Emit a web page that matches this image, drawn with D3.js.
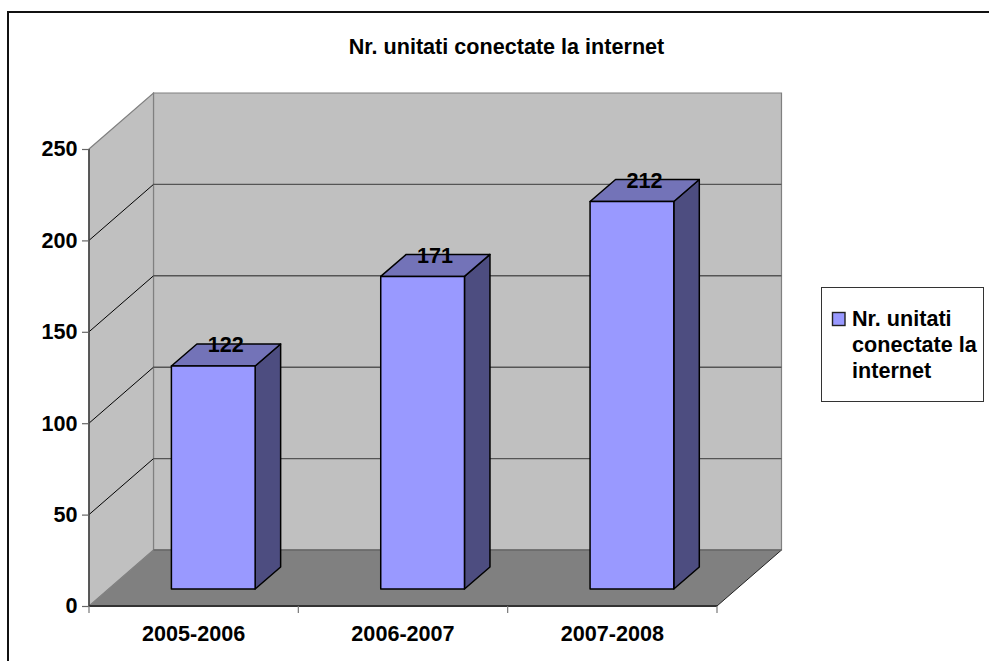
<!DOCTYPE html>
<html><head><meta charset="utf-8">
<script src="https://cdn.jsdelivr.net/npm/d3@7/dist/d3.min.js"></script>
<style>html,body{margin:0;padding:0;background:#fff}svg{display:block}text{font-family:"Liberation Sans",Arial,sans-serif;font-weight:bold;fill:#000}</style>
</head><body><svg id="c" width="989" height="661"></svg>
<script>
const categories = ["2005-2006","2006-2007","2007-2008"];
const unitCounts = [122,171,212];
const yTicks = [0,50,100,150,200,250];
const chartTitle = "Nr. unitati conectate la internet";
const legendLines = ["Nr. unitati","conectate la","internet"];

const svg = d3.select("#c");
const W = 989, H = 661, FS = "21.6px";
const wallDx = 64.5, wallDy = -56;      // plot depth
const x = d3.scaleBand().domain(categories).range([89,717]).paddingInner(0).paddingOuter(0);
const y = d3.scaleLinear().domain([0,250]).range([606,149]);
const barW = x.bandwidth()*0.4;
const barInsetDx = 19.6, barInsetDy = -17;
const barDx = 25.5, barDy = -22;
const poly = p => p.map(q=>q.join(",")).join(" ");

// outer frame
svg.append("rect").attr("x",8).attr("y",12).attr("width",W).attr("height",H).attr("fill","#fff").attr("stroke","#111").attr("stroke-width",2);

const x0=x.range()[0], x1=x.range()[1], yB=y(0), yT=y(250);
// back wall
svg.append("polygon").attr("points",poly([[x0+wallDx,yT+wallDy],[x1+wallDx,yT+wallDy],[x1+wallDx,yB+wallDy],[x0+wallDx,yB+wallDy]])).attr("fill","#c0c0c0").attr("stroke","#808080").attr("stroke-width",1.2);
// side wall
svg.append("polygon").attr("points",poly([[x0,yT],[x0+wallDx,yT+wallDy],[x0+wallDx,yB+wallDy],[x0,yB]])).attr("fill","#c0c0c0").attr("stroke","#808080").attr("stroke-width",1.2);
// floor
svg.append("polygon").attr("points",poly([[x0,yB],[x1,yB],[x1+wallDx,yB+wallDy],[x0+wallDx,yB+wallDy]])).attr("fill","#808080");
svg.append("line").attr("x1",x1).attr("y1",yB).attr("x2",x1+wallDx).attr("y2",yB+wallDy).attr("stroke","#222").attr("stroke-width",1);
svg.append("line").attr("x1",x0+wallDx).attr("y1",yB+wallDy).attr("x2",x1+wallDx).attr("y2",yB+wallDy).attr("stroke","#666").attr("stroke-width",1.5);

// gridlines
yTicks.filter(t=>t>0&&t<250).forEach(t=>{
  svg.append("line").attr("x1",x0).attr("y1",y(t)).attr("x2",x0+wallDx).attr("y2",y(t)+wallDy).attr("stroke","#000").attr("stroke-width",1);
  svg.append("line").attr("x1",x0+wallDx).attr("y1",y(t)+wallDy).attr("x2",x1+wallDx).attr("y2",y(t)+wallDy).attr("stroke","#555").attr("stroke-width",1.4);
});

// y axis
const yAxis = d3.axisLeft(y).tickValues(yTicks).tickSize(7).tickPadding(4.5).tickFormat(d3.format("d"));
const gy = svg.append("g").attr("transform",`translate(${x0},0)`).call(yAxis);
gy.select(".domain").attr("stroke","#444").attr("stroke-width",1.6).attr("d",`M0,${yT}V${yB}`);
gy.selectAll(".tick line").attr("stroke","#666").attr("stroke-width",1.2);
gy.selectAll("text").style("font-size",FS).style("font-family",'"Liberation Sans",Arial,sans-serif').style("font-weight","bold").attr("fill","#000");

// x axis
const xAxis = d3.axisBottom(x).tickSize(0).tickPadding(19.5);
const gx = svg.append("g").attr("transform",`translate(0,${yB})`).call(xAxis);
gx.select(".domain").attr("stroke","#333").attr("stroke-width",2).attr("d",`M${x0},0H${x1}`);
gx.selectAll("text").style("font-size",FS).style("font-family",'"Liberation Sans",Arial,sans-serif').style("font-weight","bold").attr("fill","#000");
d3.range(0,categories.length+1).forEach(i=>{
  const xx = x0 + i*x.step();
  svg.append("line").attr("x1",xx).attr("x2",xx).attr("y1",yB).attr("y2",yB+7).attr("stroke","#777").attr("stroke-width",1.2);
});

// bars
const bars = svg.append("g").selectAll("g").data(categories.map((c,i)=>({c,v:unitCounts[i]}))).join("g");
const L = d=>x(d.c)+(x.bandwidth()-barW)/2+barInsetDx, R=d=>L(d)+barW, B=yB+barInsetDy;
const T = d=>y(d.v)+barInsetDy;
bars.append("polygon").attr("points",d=>poly([[R(d),T(d)],[R(d)+barDx,T(d)+barDy],[R(d)+barDx,B+barDy],[R(d),B]])).attr("fill","#4d4d80");
bars.append("polygon").attr("points",d=>poly([[L(d),T(d)],[L(d)+barDx,T(d)+barDy],[R(d)+barDx,T(d)+barDy],[R(d),T(d)]])).attr("fill","#7373b8");
bars.append("rect").attr("x",L).attr("y",T).attr("width",barW).attr("height",d=>B-T(d)).attr("fill","#9999ff");
bars.selectAll("polygon,rect").attr("stroke","#000").attr("stroke-width",1.5).attr("stroke-linejoin","round");
bars.append("text").attr("x",d=>L(d)+barW/2+12.5).attr("y",d=>T(d)-13.5).attr("text-anchor","middle").style("font-size",FS).text(d=>d.v);

// title
svg.append("text").attr("x",506.5).attr("y",54).attr("text-anchor","middle").style("font-size",FS).text(chartTitle);

// legend
svg.append("rect").attr("x",821.5).attr("y",287.5).attr("width",162).attr("height",114).attr("fill","#fff").attr("stroke","#333").attr("stroke-width",1);
svg.append("rect").attr("x",832.5).attr("y",312.5).attr("width",12.5).attr("height",13).attr("fill","#9999ff").attr("stroke","#222").attr("stroke-width",1.4);
svg.append("g").selectAll("text").data(legendLines).join("text").attr("x",852).attr("y",(d,i)=>326+i*26).style("font-size",FS).text(d=>d);
</script></body></html>
